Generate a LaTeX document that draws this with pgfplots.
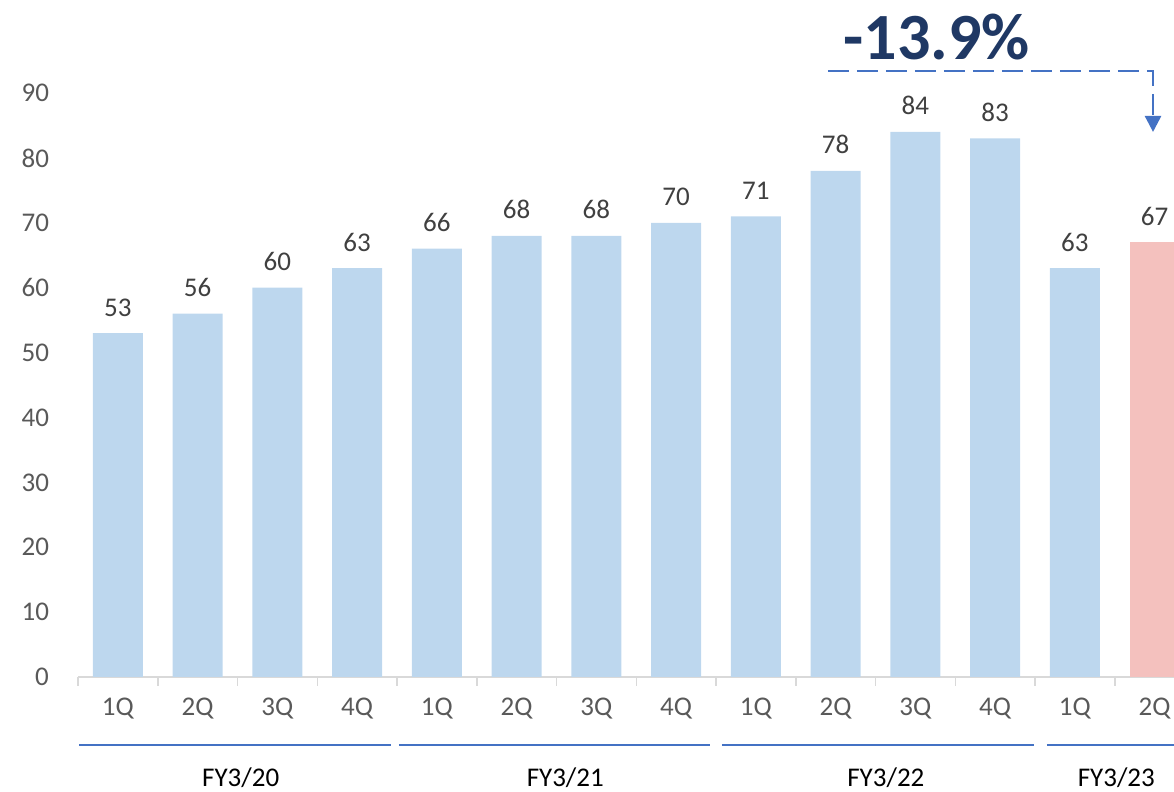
\documentclass[border=0pt]{standalone}
\usepackage{pgfplots}
\pgfplotsset{compat=1.18}
\usetikzlibrary{arrows.meta}
\usepackage{fontspec}
\setmainfont{Carlito}
\definecolor{barblue}{HTML}{BDD7EE}
\definecolor{barpink}{HTML}{F4C1BE}
\definecolor{axgray}{HTML}{D9D9D9}
\definecolor{tickgray}{HTML}{595959}
\definecolor{valgray}{HTML}{404040}
\definecolor{lineblue}{HTML}{4472C4}
\definecolor{navy}{HTML}{1F3864}
\begin{document}
\begin{tikzpicture}
\useasboundingbox (0,0) rectangle (587pt,396pt);
\begin{axis}[
  at={(39pt,57.5pt)}, anchor=south west,
  width=548pt, height=292pt, scale only axis,
  xmin=-0.5, xmax=13.243, ymin=0, ymax=90,
  clip=false,
  /pgf/number format/assume math mode=true,
  axis x line*=bottom, axis y line*=left,
  y axis line style={draw=none},
  x axis line style={draw=axgray, line width=0.75pt, -},
  major tick length=0pt,
  tick align=outside,
  tick style={draw=axgray, line width=0.75pt},
  ytick={0,10,...,90},
  yticklabel style={font=\fontsize{13.5}{16}\selectfont, text=tickgray, anchor=east, xshift=-11pt},
  xtick={0,...,13},
  xticklabels={1Q,2Q,3Q,4Q,1Q,2Q,3Q,4Q,1Q,2Q,3Q,4Q,1Q,2Q},
  xticklabel style={font=\fontsize{13.5}{16}\selectfont, text=tickgray, anchor=base, yshift=-19.5pt},
  extra x ticks={-0.5,0.5,...,12.5},
  extra x tick labels={},
  extra x tick style={major tick length=4.5pt},
  nodes near coords,
  every node near coord/.append style={font=\fontsize{13.5}{16}\selectfont, text=valgray, anchor=base, yshift=8.5pt},
]
\addplot[ybar, bar width=0.627, bar shift=0pt, fill=barblue, draw=none]
  coordinates {(0,53)(1,56)(2,60)(3,63)(4,66)(5,68)(6,68)(7,70)(8,71)(9,78)(10,84)(11,83)(12,63)};
\addplot[ybar, bar width=0.627, bar shift=0pt, fill=barpink, draw=none]
  coordinates {(13,67)};
% group lines
\draw[lineblue, line width=0.75pt] (axis cs:-0.487,-10.48) -- (axis cs:3.425,-10.48);
\draw[lineblue, line width=0.75pt] (axis cs:3.525,-10.48) -- (axis cs:7.425,-10.48);
\draw[lineblue, line width=0.75pt] (axis cs:7.575,-10.48) -- (axis cs:11.49,-10.48);
\draw[lineblue, line width=0.75pt] (axis cs:11.65,-10.48) -- (axis cs:13.243,-10.48);
% group labels
\node[anchor=base, font=\fontsize{13.5}{16}\selectfont, text=black] at (axis cs:1.54,-16.95) {FY3/20};
\node[anchor=base, font=\fontsize{13.5}{16}\selectfont, text=black] at (axis cs:5.61,-16.95) {FY3/21};
\node[anchor=base, font=\fontsize{13.5}{16}\selectfont, text=black] at (axis cs:9.63,-16.95) {FY3/22};
\node[anchor=base, font=\fontsize{13.5}{16}\selectfont, text=black] at (axis cs:12.52,-16.95) {FY3/23};
% annotation
\draw[lineblue, line width=1.3pt, dash pattern=on 10.5pt off 4pt, -{Triangle[length=8pt,width=8pt]}]
  (axis cs:8.904,93.4) -- (axis cs:12.98,93.4) -- (axis cs:12.98,84.0);
\node[font=\fontsize{33}{40}\selectfont\bfseries, text=navy] at (axis cs:10.27,98.6) {-13.9\%};
\end{axis}
\end{tikzpicture}
\end{document}
